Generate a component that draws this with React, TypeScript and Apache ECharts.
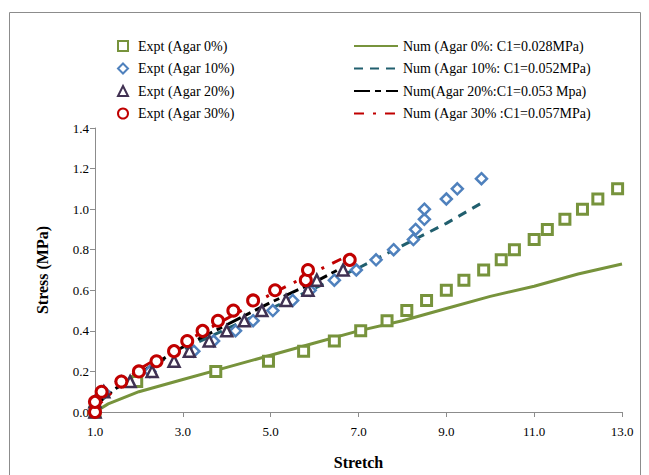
import React, { useEffect, useRef } from "react";
import * as echarts from "echarts";

const expt0: [number, number][] = [
  [1.0, 0.0], [1.95, 0.15], [3.75, 0.2], [4.95, 0.25], [5.75, 0.3], [6.45, 0.35],
  [7.05, 0.4], [7.65, 0.45], [8.1, 0.5], [8.55, 0.55], [9.0, 0.6], [9.4, 0.65],
  [9.85, 0.7], [10.25, 0.75], [10.55, 0.8], [11.0, 0.85], [11.3, 0.9], [11.7, 0.95],
  [12.1, 1.0], [12.45, 1.05], [12.9, 1.1],
];
const expt10: [number, number][] = [
  [1.0, 0.0], [1.0, 0.05], [1.2, 0.1], [1.6, 0.15], [2.25, 0.2], [3.25, 0.3],
  [3.7, 0.35], [4.2, 0.4], [4.6, 0.45], [5.05, 0.5], [5.5, 0.55], [5.9, 0.6],
  [6.45, 0.65], [6.95, 0.7], [7.4, 0.75], [7.8, 0.8], [8.25, 0.85], [8.3, 0.9],
  [8.5, 0.95], [8.5, 1.0], [9.0, 1.05], [9.25, 1.1], [9.8, 1.15],
];
const expt20: [number, number][] = [
  [1.0, 0.0], [1.0, 0.05], [1.2, 0.1], [1.8, 0.15], [2.3, 0.2], [2.8, 0.25],
  [3.15, 0.3], [3.6, 0.35], [4.0, 0.4], [4.4, 0.45], [4.8, 0.5], [5.35, 0.55],
  [5.85, 0.6], [6.05, 0.65], [6.65, 0.7],
];
const expt30: [number, number][] = [
  [1.0, 0.0], [1.0, 0.05], [1.15, 0.1], [1.6, 0.15], [2.0, 0.2], [2.4, 0.25],
  [2.8, 0.3], [3.1, 0.35], [3.45, 0.4], [3.8, 0.45], [4.15, 0.5], [4.6, 0.55],
  [5.1, 0.6], [5.8, 0.65], [5.85, 0.7], [6.8, 0.75],
];
const num0: [number, number][] = [
  [1.0, 0.0], [1.3, 0.04], [2, 0.1], [3, 0.16], [4, 0.22], [5, 0.28], [6, 0.34],
  [7, 0.4], [8, 0.45], [9, 0.51], [10, 0.57], [11, 0.62], [12, 0.68], [13, 0.73],
];
const num10: [number, number][] = [
  [1.0, 0.0], [1.1, 0.05], [1.5, 0.12], [2, 0.19], [3, 0.31], [4, 0.41], [5, 0.51],
  [6, 0.61], [7, 0.71], [8, 0.82], [9, 0.93], [9.8, 1.03],
];
const num20: [number, number][] = [
  [1.0, 0.0], [1.1, 0.05], [1.5, 0.12], [2, 0.19], [3, 0.32], [4, 0.43], [5, 0.54],
  [6, 0.64], [6.7, 0.72],
];
const num30: [number, number][] = [
  [1.0, 0.02], [1.5, 0.12], [2, 0.21], [3, 0.34], [4, 0.46], [5, 0.58], [6, 0.69],
  [6.85, 0.78],
];

const exptNames = ["Expt (Agar 0%)", "Expt (Agar 10%)", "Expt (Agar 20%)", "Expt (Agar 30%)"];
const numNames = [
  "Num (Agar 0%: C1=0.028MPa)",
  "Num (Agar 10%: C1=0.052MPa)",
  "Num(Agar 20%:C1=0.053 Mpa)",
  "Num (Agar 30% :C1=0.057MPa)",
];
const xTicks = { min: 1, max: 13, interval: 2 };
const yTicks = { min: 0, max: 1.4, interval: 0.2 };

const FONT = "'Liberation Serif', 'Times New Roman', serif";

export default function App() {
  const ref = useRef<HTMLDivElement>(null);
  useEffect(() => {
    if (!ref.current) return;
    const chart = echarts.init(ref.current, undefined, { renderer: "svg" });
    const scatterStyle = (color: string) => ({
      color: "#ffffff",
      borderColor: color,
      borderWidth: 2.5,
      opacity: 1,
    });
    chart.setOption({
      animation: false,
      backgroundColor: "#ffffff",
      textStyle: { fontFamily: FONT },
      grid: { left: 95, right: 27, top: 128, bottom: 62, containLabel: false },
      graphic: [
        {
          type: "rect",
          shape: { x: 9.5, y: 12.5, width: 631, height: 520 },
          style: { fill: "none", stroke: "#8c8c8c", lineWidth: 1 },
          silent: true,
          z: -10,
        },
      ],
      legend: [
        {
          data: exptNames,
          orient: "vertical",
          left: 112,
          top: 34,
          itemWidth: 10,
          itemHeight: 10,
          itemGap: 8.5,
          textStyle: { fontFamily: FONT, fontSize: 14, color: "#000", padding: [0, 0, 0, 5] },
          selectedMode: false,
        },
        {
          data: numNames,
          orient: "vertical",
          left: 348,
          top: 34,
          itemWidth: 44,
          itemHeight: 10,
          itemGap: 8.5,
          itemStyle: { color: "transparent", borderColor: "transparent", borderWidth: 0, opacity: 0 },
          textStyle: { fontFamily: FONT, fontSize: 14, color: "#000" },
          selectedMode: false,
        },
      ],
      xAxis: {
        type: "value",
        min: xTicks.min,
        max: xTicks.max,
        interval: xTicks.interval,
        name: "Stretch",
        nameLocation: "middle",
        nameGap: 42,
        nameTextStyle: { fontFamily: FONT, fontSize: 16, fontWeight: "bold", color: "#000" },
        axisLine: { show: true, onZero: false, lineStyle: { color: "#8c8c8c", width: 1 } },
        axisTick: { show: true, length: 5, lineStyle: { color: "#8c8c8c" } },
        splitLine: { show: false },
        axisLabel: {
          fontFamily: FONT,
          fontSize: 13,
          color: "#000",
          margin: 13,
          formatter: (v: number) => v.toFixed(1),
        },
      },
      yAxis: {
        type: "value",
        min: yTicks.min,
        max: yTicks.max,
        interval: yTicks.interval,
        name: "Stress (MPa)",
        nameLocation: "middle",
        nameGap: 45,
        nameTextStyle: { fontFamily: FONT, fontSize: 16, fontWeight: "bold", color: "#000" },
        axisLine: { show: true, lineStyle: { color: "#8c8c8c", width: 1 } },
        axisTick: { show: true, length: 5, lineStyle: { color: "#8c8c8c" } },
        splitLine: { show: false },
        axisLabel: {
          fontFamily: FONT,
          fontSize: 13,
          color: "#000",
          margin: 6,
          formatter: (v: number) => v.toFixed(1),
        },
      },
      series: [
        {
          name: numNames[0],
          type: "line",
          data: num0,
          symbol: "none",
          lineStyle: { color: "#77933C", width: 3 },
          itemStyle: { color: "#77933C" },
          z: 2,
        },
        {
          name: numNames[1],
          type: "line",
          data: num10,
          symbol: "none",
          lineStyle: { color: "#215F6E", width: 3, type: [9, 7] },
          itemStyle: { color: "#215F6E" },
          z: 2,
        },
        {
          name: numNames[2],
          type: "line",
          data: num20,
          symbol: "none",
          lineStyle: { color: "#000000", width: 3, type: [16, 5, 6, 5] },
          itemStyle: { color: "#000000" },
          z: 2,
        },
        {
          name: numNames[3],
          type: "line",
          data: num30,
          symbol: "none",
          lineStyle: { color: "#C00000", width: 3, type: [10, 9, 3, 9] },
          itemStyle: { color: "#C00000" },
          z: 2,
        },
        {
          name: exptNames[0],
          type: "scatter",
          data: expt0,
          symbol: "rect",
          symbolSize: 10,
          itemStyle: { ...scatterStyle("#77933C"), borderWidth: 3 },
          z: 3,
        },
        {
          name: exptNames[1],
          type: "scatter",
          data: expt10,
          symbol: "diamond",
          symbolSize: 11,
          itemStyle: scatterStyle("#4F81BD"),
          z: 3,
        },
        {
          name: exptNames[2],
          type: "scatter",
          data: expt20,
          symbol: "triangle",
          symbolSize: 11,
          itemStyle: scatterStyle("#403152"),
          z: 3,
        },
        {
          name: exptNames[3],
          type: "scatter",
          data: expt30,
          symbol: "circle",
          symbolSize: 11,
          itemStyle: { ...scatterStyle("#C00000"), borderWidth: 3 },
          z: 4,
        },
      ],
    });
    return () => chart.dispose();
  }, []);
  return (
    <div
      ref={ref}
      style={{ position: "fixed", left: 0, top: 0, width: 649, height: 475, background: "#fff" }}
    />
  );
}
